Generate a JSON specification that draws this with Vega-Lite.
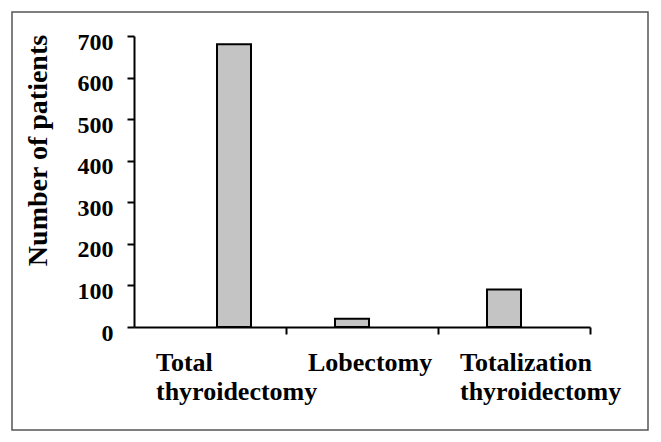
{
  "$schema": "https://vega.github.io/schema/vega-lite/v6.json",
  "width": 636,
  "height": 418,
  "autosize": {"type": "none"},
  "padding": 12,
  "background": "white",
  "config": {
    "view": {"stroke": "#555555", "strokeWidth": 1.5},
    "font": "Liberation Serif"
  },
  "data": {
    "values": [
      {"procedure": "Total thyroidectomy", "slot": "b", "patients": 680},
      {"procedure": "Lobectomy", "slot": "a", "patients": 20},
      {"procedure": "Totalization thyroidectomy", "slot": "a", "patients": 90}
    ]
  },
  "mark": {"type": "bar", "fill": "#c4c4c4", "stroke": "black", "strokeWidth": 2},
  "encoding": {
    "x": {
      "field": "procedure",
      "type": "nominal",
      "sort": null,
      "scale": {"range": [122, 578], "paddingInner": 0, "paddingOuter": 0},
      "axis": {
        "title": null,
        "offset": -103,
        "bandPosition": 1,
        "domainColor": "black",
        "domainWidth": 2,
        "tickColor": "black",
        "tickWidth": 2,
        "tickSize": 7,
        "labelAngle": 0,
        "labelAlign": "left",
        "labelBaseline": "top",
        "labelOffset": -54,
        "labelPadding": 15,
        "labelFont": "Liberation Serif",
        "labelFontWeight": "bold",
        "labelFontSize": 26,
        "labelColor": "black",
        "labelLineHeight": 29,
        "labelLimit": 300,
        "labelExpr": "datum.label == 'Lobectomy' ? datum.label : split(datum.label, ' ')"
      }
    },
    "xOffset": {
      "field": "slot",
      "type": "nominal",
      "scale": {"domain": ["a", "b"], "range": [49, 117], "paddingInner": 0, "paddingOuter": 0}
    },
    "y": {
      "field": "patients",
      "type": "quantitative",
      "scale": {"domain": [0, 700], "range": [315, 24], "nice": false},
      "axis": {
        "title": "Number of patients",
        "values": [0, 100, 200, 300, 400, 500, 600, 700],
        "grid": false,
        "offset": -122,
        "domainColor": "black",
        "domainWidth": 2,
        "tickColor": "black",
        "tickWidth": 2,
        "tickSize": 7,
        "labelPadding": 14,
        "labelOffset": 6,
        "labelFont": "Liberation Serif",
        "labelFontWeight": "bold",
        "labelFontSize": 24,
        "labelColor": "black",
        "titleFont": "Liberation Serif",
        "titleFontWeight": "bold",
        "titleFontSize": 28,
        "titleColor": "black",
        "titleAngle": -90,
        "titleBaseline": "middle",
        "titleAlign": "center",
        "titleX": -96,
        "titleY": 138
      }
    }
  }
}
